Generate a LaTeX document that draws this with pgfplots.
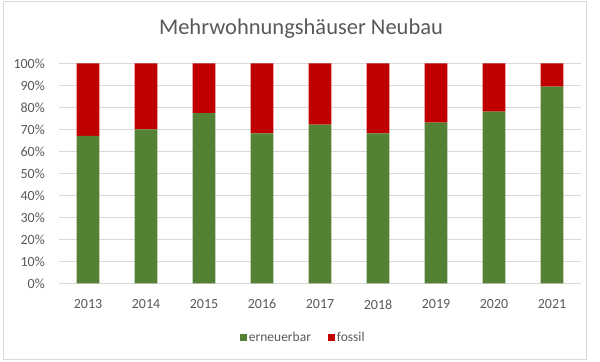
\documentclass[border=0pt]{standalone}
\usepackage{pgfplots}
\pgfplotsset{compat=1.18}
\usepackage{fontspec}
\setmainfont{Carlito}
\definecolor{eegreen}{HTML}{548235}
\definecolor{fosred}{HTML}{C00000}
\definecolor{txtgray}{HTML}{595959}
\definecolor{gridgray}{HTML}{D9D9D9}
\begin{document}
\begin{tikzpicture}
\path[use as bounding box] (0,0) rectangle (600bp,362bp);
\draw[gridgray, line width=0.8bp] (3bp,3bp) rectangle (586bp,361bp);
\node[anchor=base, font=\fontsize{22.5bp}{26bp}\selectfont, text=txtgray, inner sep=0pt] at (301bp,327.7bp) {Mehrwohnungshäuser Neubau};
\begin{axis}[
  at={(59bp,78.7bp)}, anchor=south west,
  scale only axis, width=522bp, height=220bp,
  ybar stacked, bar width=22.6bp,
  xmin=-0.5, xmax=8.5, ymin=0, ymax=100,
  xtick=data,
  xticklabels={2013,2014,2015,2016,2017,2018,2019,2020,2021},
  ytick={0,10,...,100},
  yticklabel={\pgfmathprintnumber{\tick}\%},
  /pgf/number format/assume math mode=true,
  axis line style={draw=none},
  major tick length=0pt,
  ymajorgrids, grid style={gridgray, line width=0.8bp},
  tick label style={font=\fontsize{14bp}{16bp}\selectfont, text=txtgray},
  yticklabel style={inner sep=0pt, anchor=east, xshift=-14bp},
  xticklabel style={inner sep=0pt, anchor=north, yshift=-16bp},
  legend style={at={(0.468,-0.245)}, anchor=center, draw=none, fill=none,
    legend columns=2, font=\fontsize{13.5bp}{16bp}\selectfont, text=txtgray,
    /tikz/every even column/.append style={column sep=15bp}},
  legend image code/.code={\fill[#1] (0bp,-3.5bp) rectangle (7bp,3.5bp);},
]
\addplot[fill=eegreen, draw=none] coordinates {(0,67) (1,70) (2,77.3) (3,68.2) (4,72.1) (5,68.2) (6,73) (7,78) (8,89.4)};
\addplot[fill=fosred, draw=none] coordinates {(0,33) (1,30) (2,22.7) (3,31.8) (4,27.9) (5,31.8) (6,27) (7,22) (8,10.6)};
\legend{erneuerbar,fossil}
\end{axis}
\end{tikzpicture}
\end{document}
